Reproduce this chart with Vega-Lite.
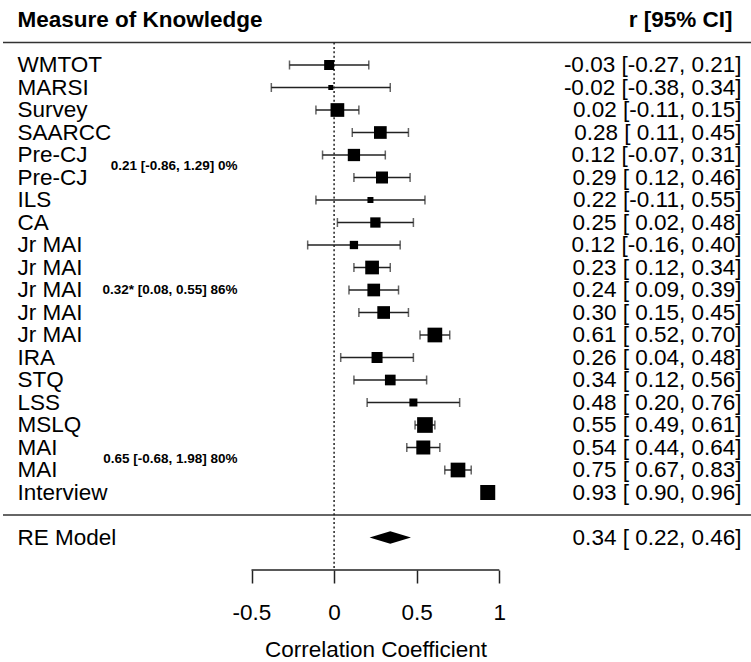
{
  "$schema": "https://vega.github.io/schema/vega-lite/v6.json",
  "width": 751,
  "height": 570,
  "autosize": {"type": "none"},
  "padding": {"left": 0, "top": 0, "right": 0, "bottom": 92},
  "config": {"view": {"stroke": null}, "font": "Liberation Sans"},
  "datasets": {
    "rows": [
      {"row": 1, "type": "study", "label": "WMTOT", "est": -0.03, "lo": -0.27, "hi": 0.21, "w": 100, "ci": "-0.03 [-0.27, 0.21]"},
      {"row": 2, "type": "study", "label": "MARSI", "est": -0.02, "lo": -0.38, "hi": 0.34, "w": 25, "ci": "-0.02 [-0.38, 0.34]"},
      {"row": 3, "type": "study", "label": "Survey", "est": 0.02, "lo": -0.11, "hi": 0.15, "w": 188, "ci": "0.02 [-0.11, 0.15]"},
      {"row": 4, "type": "study", "label": "SAARCC", "est": 0.28, "lo": 0.11, "hi": 0.45, "w": 161, "ci": "0.28 [ 0.11, 0.45]"},
      {"row": 5, "type": "study", "label": "Pre-CJ", "est": 0.12, "lo": -0.07, "hi": 0.31, "w": 151, "ci": "0.12 [-0.07, 0.31]"},
      {"row": 6, "type": "study", "label": "Pre-CJ", "est": 0.29, "lo": 0.12, "hi": 0.46, "w": 144, "ci": "0.29 [ 0.12, 0.46]"},
      {"row": 7, "type": "study", "label": "ILS", "est": 0.22, "lo": -0.11, "hi": 0.55, "w": 36, "ci": "0.22 [-0.11, 0.55]"},
      {"row": 8, "type": "study", "label": "CA", "est": 0.25, "lo": 0.02, "hi": 0.48, "w": 106, "ci": "0.25 [ 0.02, 0.48]"},
      {"row": 9, "type": "study", "label": "Jr MAI", "est": 0.12, "lo": -0.16, "hi": 0.40, "w": 69, "ci": "0.12 [-0.16, 0.40]"},
      {"row": 10, "type": "study", "label": "Jr MAI", "est": 0.23, "lo": 0.12, "hi": 0.34, "w": 188, "ci": "0.23 [ 0.12, 0.34]"},
      {"row": 11, "type": "study", "label": "Jr MAI", "est": 0.24, "lo": 0.09, "hi": 0.39, "w": 161, "ci": "0.24 [ 0.09, 0.39]"},
      {"row": 12, "type": "study", "label": "Jr MAI", "est": 0.30, "lo": 0.15, "hi": 0.45, "w": 161, "ci": "0.30 [ 0.15, 0.45]"},
      {"row": 13, "type": "study", "label": "Jr MAI", "est": 0.61, "lo": 0.52, "hi": 0.70, "w": 216, "ci": "0.61 [ 0.52, 0.70]"},
      {"row": 14, "type": "study", "label": "IRA", "est": 0.26, "lo": 0.04, "hi": 0.48, "w": 121, "ci": "0.26 [ 0.04, 0.48]"},
      {"row": 15, "type": "study", "label": "STQ", "est": 0.34, "lo": 0.12, "hi": 0.56, "w": 114, "ci": "0.34 [ 0.12, 0.56]"},
      {"row": 16, "type": "study", "label": "LSS", "est": 0.48, "lo": 0.20, "hi": 0.76, "w": 64, "ci": "0.48 [ 0.20, 0.76]"},
      {"row": 17, "type": "study", "label": "MSLQ", "est": 0.55, "lo": 0.49, "hi": 0.61, "w": 246, "ci": "0.55 [ 0.49, 0.61]"},
      {"row": 18, "type": "study", "label": "MAI", "est": 0.54, "lo": 0.44, "hi": 0.64, "w": 196, "ci": "0.54 [ 0.44, 0.64]"},
      {"row": 19, "type": "study", "label": "MAI", "est": 0.75, "lo": 0.67, "hi": 0.83, "w": 216, "ci": "0.75 [ 0.67, 0.83]"},
      {"row": 20, "type": "study", "label": "Interview", "est": 0.93, "lo": 0.90, "hi": 0.96, "w": 225, "ci": "0.93 [ 0.90, 0.96]"},
      {"row": 22, "type": "summary", "label": "RE Model", "est": 0.34, "lo": 0.22, "hi": 0.46, "w": 0, "ci": "0.34 [ 0.22, 0.46]"}
    ],
    "groups": [
      {"row": 5.5, "text": "0.21 [-0.86, 1.29] 0%"},
      {"row": 11, "text": "0.32* [0.08, 0.55] 86%"},
      {"row": 18.5, "text": "0.65 [-0.68, 1.98] 80%"}
    ],
    "headers": [
      {"row": -1, "left": "Measure of Knowledge", "right": "r [95% CI]"}
    ],
    "lines": [
      {"row": 0},
      {"row": 21}
    ]
  },
  "data": {"name": "rows"},
  "encoding": {
    "y": {"field": "row", "type": "quantitative", "scale": {"domain": [-1.8889, 23.4444], "reverse": true, "nice": false, "zero": false}, "axis": null}
  },
  "layer": [
    {
      "data": {"name": "lines"},
      "mark": {"type": "rule", "color": "#333", "strokeWidth": 1.6},
      "encoding": {
        "x": {"datum": -2.0042, "type": "quantitative", "title": "Correlation Coefficient", "scale": {"domain": [-2.0224, 2.5236], "nice": false, "zero": false}},
        "x2": {"datum": 2.5236}
      }
    },
    {
      "data": {"values": [{"ref": 0, "top": 0, "bottom": 23.4444}]},
      "mark": {"type": "rule", "color": "#222", "strokeWidth": 1.5, "strokeDash": [2, 2.4]},
      "encoding": {
        "x": {"field": "ref", "type": "quantitative", "title": "Correlation Coefficient", "scale": {"domain": [-2.0224, 2.5236], "nice": false, "zero": false}},
        "y": {"field": "top", "type": "quantitative", "scale": {"domain": [-1.8889, 23.4444], "reverse": true, "nice": false, "zero": false}, "axis": null},
        "y2": {"field": "bottom"}
      }
    },
    {
      "transform": [{"filter": "datum.type == 'study'"}],
      "mark": {"type": "rule", "color": "#222", "strokeWidth": 1.4},
      "encoding": {
        "x": {"field": "lo", "type": "quantitative", "title": "Correlation Coefficient", "scale": {"domain": [-2.0224, 2.5236], "nice": false, "zero": false}},
        "x2": {"field": "hi"}
      }
    },
    {
      "transform": [{"filter": "datum.type == 'study'"}],
      "mark": {"type": "tick", "orient": "vertical", "color": "#222", "size": 9, "thickness": 1.5},
      "encoding": {
        "x": {"field": "lo", "type": "quantitative", "title": "Correlation Coefficient", "scale": {"domain": [-2.0224, 2.5236], "nice": false, "zero": false}}
      }
    },
    {
      "transform": [{"filter": "datum.type == 'study'"}],
      "mark": {"type": "tick", "orient": "vertical", "color": "#222", "size": 9, "thickness": 1.5},
      "encoding": {
        "x": {"field": "hi", "type": "quantitative", "title": "Correlation Coefficient", "scale": {"domain": [-2.0224, 2.5236], "nice": false, "zero": false}}
      }
    },
    {
      "transform": [{"filter": "datum.type == 'study'"}],
      "mark": {"type": "point", "shape": "square", "filled": true, "color": "#000", "opacity": 1, "strokeWidth": 0},
      "encoding": {
        "x": {
          "field": "est", "type": "quantitative", "title": "Correlation Coefficient",
          "scale": {"domain": [-2.0224, 2.5236], "nice": false, "zero": false},
          "axis": {
            "title": "Correlation Coefficient",
            "values": [-0.5, 0, 0.5, 1],
            "domain": false, "grid": false,
            "tickSize": 13, "tickWidth": 1.5, "tickColor": "#222",
            "labelExpr": "datum.value < 0 ? '-' + format(-datum.value, '~g') : format(datum.value, '~g')",
            "labelFont": "Liberation Sans", "labelFontSize": 22.5, "labelColor": "#000", "labelPadding": 18,
            "titleFont": "Liberation Sans", "titleFontSize": 22.5, "titleFontWeight": "normal", "titleColor": "#000", "titlePadding": 15
          }
        },
        "size": {"field": "w", "type": "quantitative", "scale": {"type": "linear", "domain": [0, 250], "range": [0, 250], "zero": true}, "legend": null}
      }
    },
    {
      "data": {"values": [{"ref": -0.5, "row": 23.4444}, {"ref": 1, "row": 23.4444}]},
      "mark": {"type": "line", "color": "#222", "strokeWidth": 1.5},
      "encoding": {
        "x": {"field": "ref", "type": "quantitative", "title": "Correlation Coefficient", "scale": {"domain": [-2.0224, 2.5236], "nice": false, "zero": false}}
      }
    },
    {
      "transform": [{"filter": "datum.type == 'summary'"}],
      "mark": {"type": "point", "shape": "M-1,0L0,-0.307L1,0L0,0.307Z", "filled": true, "color": "#000", "opacity": 1, "strokeWidth": 0, "size": 1714},
      "encoding": {
        "x": {"field": "est", "type": "quantitative", "title": "Correlation Coefficient", "scale": {"domain": [-2.0224, 2.5236], "nice": false, "zero": false}}
      }
    },
    {
      "mark": {"type": "text", "align": "left", "baseline": "middle", "font": "Liberation Sans", "fontSize": 22.5, "color": "#000"},
      "encoding": {
        "x": {"datum": -1.9165, "type": "quantitative", "title": "Correlation Coefficient", "scale": {"domain": [-2.0224, 2.5236], "nice": false, "zero": false}},
        "text": {"field": "label"}
      }
    },
    {
      "mark": {"type": "text", "align": "right", "baseline": "middle", "font": "Liberation Sans", "fontSize": 22.5, "color": "#000"},
      "encoding": {
        "x": {"datum": 2.4661, "type": "quantitative", "title": "Correlation Coefficient", "scale": {"domain": [-2.0224, 2.5236], "nice": false, "zero": false}},
        "text": {"field": "ci"}
      }
    },
    {
      "data": {"name": "headers"},
      "mark": {"type": "text", "align": "left", "baseline": "middle", "font": "Liberation Sans", "fontSize": 22.5, "fontWeight": "bold", "color": "#000"},
      "encoding": {
        "x": {"datum": -1.9165, "type": "quantitative", "title": "Correlation Coefficient", "scale": {"domain": [-2.0224, 2.5236], "nice": false, "zero": false}},
        "text": {"field": "left"}
      }
    },
    {
      "data": {"name": "headers"},
      "mark": {"type": "text", "align": "right", "baseline": "middle", "font": "Liberation Sans", "fontSize": 22.5, "fontWeight": "bold", "color": "#000"},
      "encoding": {
        "x": {"datum": 2.4116, "type": "quantitative", "title": "Correlation Coefficient", "scale": {"domain": [-2.0224, 2.5236], "nice": false, "zero": false}},
        "text": {"field": "right"}
      }
    },
    {
      "data": {"name": "groups"},
      "mark": {"type": "text", "align": "right", "baseline": "middle", "font": "Liberation Sans", "fontSize": 13.5, "fontWeight": "bold", "color": "#000"},
      "encoding": {
        "x": {"datum": -0.5847, "type": "quantitative", "title": "Correlation Coefficient", "scale": {"domain": [-2.0224, 2.5236], "nice": false, "zero": false}},
        "text": {"field": "text"}
      }
    }
  ]
}
